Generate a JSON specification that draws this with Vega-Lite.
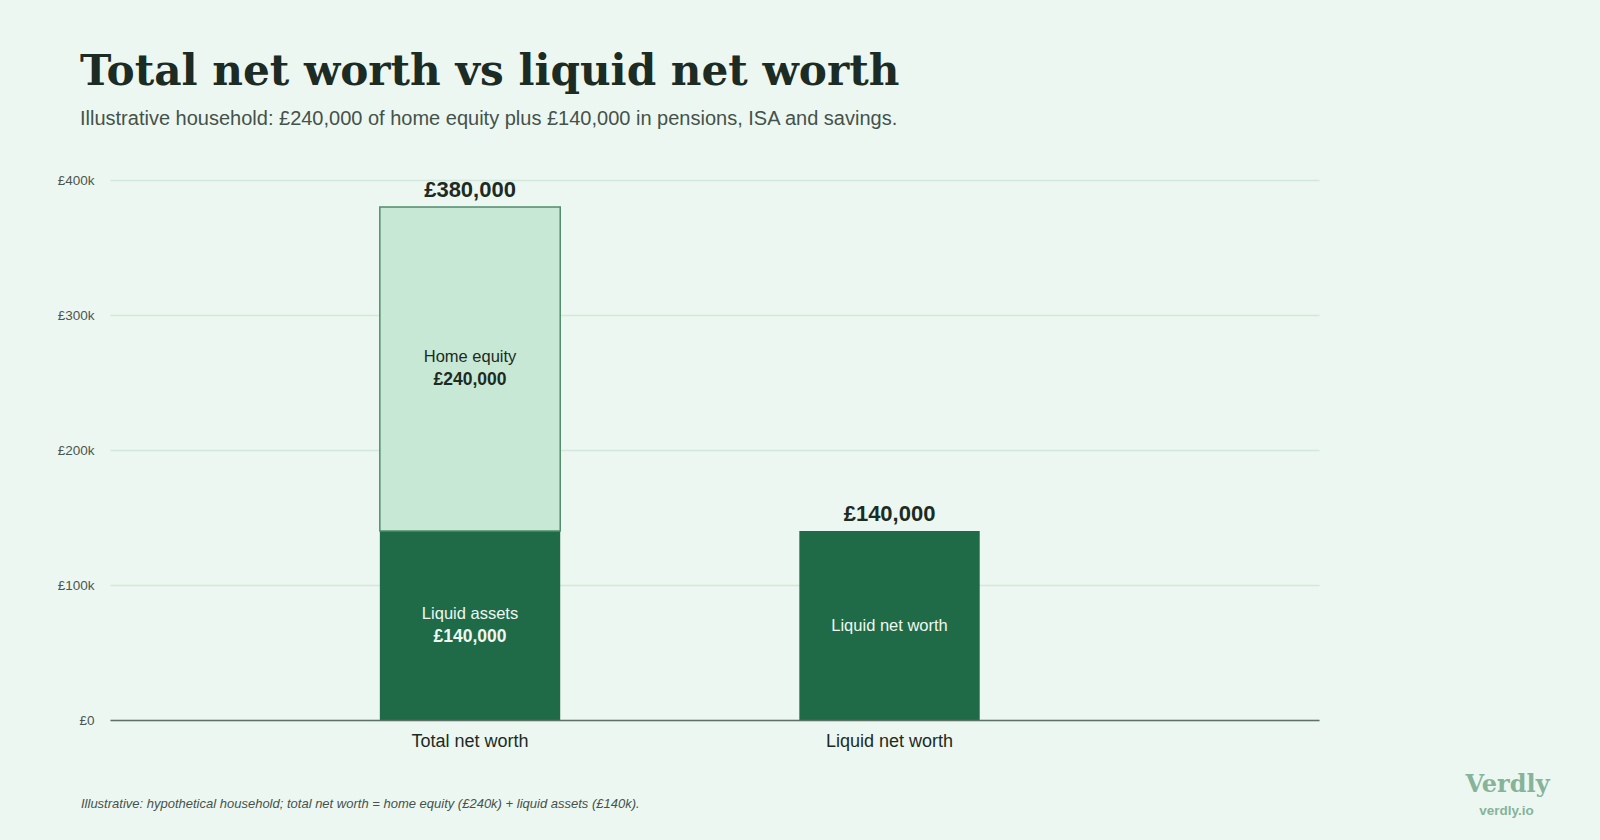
{
  "$schema": "https://vega.github.io/schema/vega-lite/v6.json",
  "autosize": {"type": "none"},
  "width": 1209,
  "height": 540,
  "padding": {"left": 110, "top": 180, "right": 281, "bottom": 120},
  "background": "#edf7f1",
  "title": {
    "text": "Total net worth vs liquid net worth",
    "subtitle": "Illustrative household: £240,000 of home equity plus £140,000 in pensions, ISA and savings.",
    "anchor": "start",
    "frame": "group",
    "dx": -30,
    "offset": 43,
    "font": "DejaVu Serif",
    "fontSize": 42.2,
    "fontWeight": "bold",
    "color": "#1c2b23",
    "subtitleFont": "Liberation Sans",
    "subtitleFontSize": 20,
    "subtitleColor": "#44524a",
    "subtitlePadding": 15
  },
  "data": {
    "values": [
      {"category": "Total net worth", "segment": "Liquid assets", "value": 140000, "order": 1},
      {"category": "Total net worth", "segment": "Home equity", "value": 240000, "order": 2},
      {"category": "Liquid net worth", "segment": "Liquid net worth", "value": 140000, "order": 1}
    ]
  },
  "layer": [
    {
      "layer": [
        {
          "mark": {"type": "bar", "stroke": "#4f8c6b"},
          "encoding": {
            "x": {
              "field": "category",
              "type": "nominal",
              "sort": null,
              "scale": {"type": "band", "domain": ["Total net worth", "Liquid net worth"], "paddingInner": 0.57, "paddingOuter": 0.726, "align": 0.443},
              "axis": {
                "orient": "bottom",
                "title": "Illustrative: hypothetical household; total net worth = home equity (£240k) + liquid assets (£140k).",
                "titleX": -29.5,
                "titleY": 87,
                "titleAlign": "left",
                "titleAnchor": null,
                "titleBaseline": "alphabetic",
                "titleFont": "Liberation Sans",
                "titleFontSize": 13,
                "titleFontStyle": "italic",
                "titleFontWeight": "normal",
                "titleColor": "#46524b",
                "labelFont": "Liberation Sans",
                "labelFontSize": 18,
                "labelColor": "#1c2b23",
                "labelPadding": 12,
                "labelAngle": 0,
                "ticks": false,
                "domain": true,
                "domainColor": "#5d7166",
                "domainWidth": 1.5,
                "grid": false,
                "zindex": 1
              }
            },
            "y": {
              "field": "value",
              "type": "quantitative",
              "stack": "zero",
              "scale": {"domain": [0, 400000], "nice": false},
              "axis": {
                "orient": "left",
                "title": null,
                "values": [0, 100000, 200000, 300000, 400000],
                "format": "$~s",
                "labelExpr": "datum.value === 0 ? '£0' : datum.label",
                "labelFont": "Liberation Sans",
                "labelFontSize": 13.5,
                "labelColor": "#4b5650",
                "labelPadding": 16,
                "ticks": false,
                "domain": false,
                "grid": true,
                "gridColor": "#d3e8dc",
                "gridWidth": 1.5
              }
            },
            "order": {"field": "order", "type": "quantitative"},
            "color": {
              "field": "segment",
              "type": "nominal",
              "legend": null,
              "scale": {"domain": ["Home equity", "Liquid assets", "Liquid net worth"], "range": ["#c8e8d6", "#1f6b48", "#1f6b48"]}
            },
            "strokeWidth": {"condition": {"test": "datum.segment === 'Home equity'", "value": 1.5}, "value": 0}
          }
        },
        {
          "transform": [
            {"stack": "value", "groupby": ["category"], "sort": [{"field": "order"}], "as": ["v0", "v1"]},
            {"calculate": "(datum.v0 + datum.v1) / 2", "as": "mid"},
            {"filter": "datum.category === 'Total net worth'"}
          ],
          "layer": [
            {
              "mark": {"type": "text", "font": "Liberation Sans", "fontSize": 16.5, "baseline": "middle", "dy": -12},
              "encoding": {
                "x": {"field": "category", "type": "nominal", "sort": null},
                "y": {"field": "mid", "type": "quantitative"},
                "text": {"field": "segment"},
                "color": {"condition": {"test": "datum.segment === 'Home equity'", "value": "#1c2b23"}, "value": "#eef7f1"}
              }
            },
            {
              "mark": {"type": "text", "font": "Liberation Sans", "fontSize": 17.5, "fontWeight": "bold", "baseline": "middle", "dy": 11},
              "encoding": {
                "x": {"field": "category", "type": "nominal", "sort": null},
                "y": {"field": "mid", "type": "quantitative"},
                "text": {"field": "value", "type": "quantitative", "format": "$,.0f"},
                "color": {"condition": {"test": "datum.segment === 'Home equity'", "value": "#1c2b23"}, "value": "#eef7f1"}
              }
            }
          ]
        },
        {
          "transform": [
            {"stack": "value", "groupby": ["category"], "sort": [{"field": "order"}], "as": ["v0", "v1"]},
            {"calculate": "(datum.v0 + datum.v1) / 2", "as": "mid"},
            {"filter": "datum.category === 'Liquid net worth'"}
          ],
          "mark": {"type": "text", "font": "Liberation Sans", "fontSize": 16.5, "baseline": "middle", "color": "#eef7f1"},
          "encoding": {
            "x": {"field": "category", "type": "nominal", "sort": null},
            "y": {"field": "mid", "type": "quantitative"},
            "text": {"field": "segment"}
          }
        }
      ]
    },
    {
      "transform": [
        {"aggregate": [{"op": "sum", "field": "value", "as": "total"}], "groupby": ["category"]}
      ],
      "mark": {"type": "text", "font": "Liberation Sans", "fontSize": 22, "fontWeight": "bold", "baseline": "alphabetic", "dy": -10, "color": "#1c2b23"},
      "encoding": {
        "x": {
          "field": "category",
          "type": "nominal",
          "sort": null,
          "axis": {
            "orient": "top",
            "title": "verdly.io",
            "titleX": 1396,
            "titleY": 634,
            "titleAlign": "center",
            "titleAnchor": null,
            "titleBaseline": "alphabetic",
            "titleFont": "Liberation Sans",
            "titleFontSize": 13.5,
            "titleFontWeight": "bold",
            "titleColor": "#86b39a",
            "labels": false,
            "ticks": false,
            "domain": false,
            "grid": false
          }
        },
        "y": {
          "field": "total",
          "type": "quantitative",
          "axis": {
            "orient": "right",
            "title": "Verdly",
            "titleAngle": 0,
            "titleX": 188,
            "titleY": 611,
            "titleAlign": "center",
            "titleAnchor": null,
            "titleBaseline": "alphabetic",
            "titleFont": "DejaVu Serif",
            "titleFontSize": 24,
            "titleFontWeight": "bold",
            "titleColor": "#86b39a",
            "labels": false,
            "ticks": false,
            "domain": false,
            "grid": false
          }
        },
        "text": {"field": "total", "type": "quantitative", "format": "$,.0f"}
      }
    }
  ],
  "resolve": {"axis": {"x": "independent", "y": "independent"}},
  "config": {
    "locale": {"number": {"decimal": ".", "thousands": ",", "grouping": [3], "currency": ["£", ""]}},
    "view": {"stroke": null}
  }
}
